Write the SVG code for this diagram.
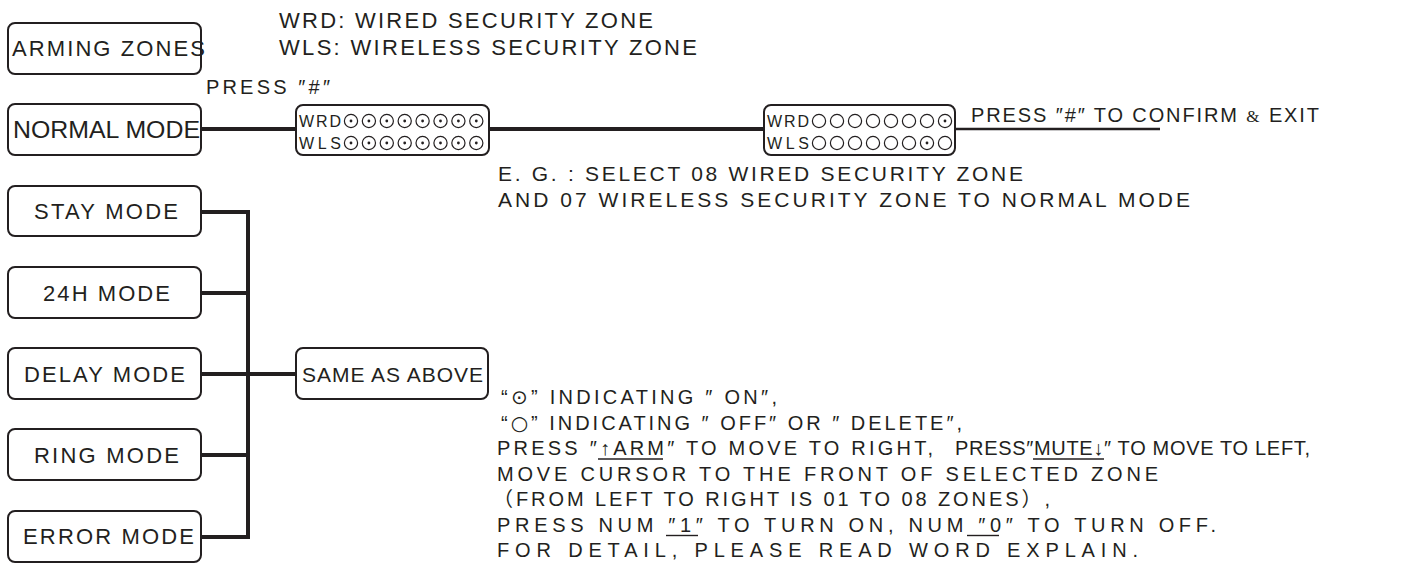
<svg xmlns="http://www.w3.org/2000/svg" width="1427" height="574" viewBox="0 0 1427 574">
<style>
.box{fill:#fff;stroke:#231f20;stroke-width:2}
.t{font-family:"Liberation Sans",Arial,"Noto Sans CJK SC",sans-serif;fill:#231f20}
.s24{font-size:24px}
.s22{font-size:22px}
.s21{font-size:21px}
.s20{font-size:20px}
.sm{font-size:16px}
.sym{font-family:"DejaVu Sans",sans-serif}
.amp{font-family:"Liberation Serif",serif;font-size:17px}
.thick{stroke:#231f20;stroke-width:4;fill:none}
.thin{stroke:#231f20;stroke-width:2.5;fill:none}
.ul{stroke:#231f20;stroke-width:1.4}
.c{fill:#fff;stroke:#231f20;stroke-width:1.2}
.d{fill:#231f20}
</style>
<defs>
<g id="on"><circle class="c" r="6.6"/><circle class="d" r="1.4"/></g>
<g id="off"><circle class="c" r="6.6"/></g>
</defs>

<g id="connectors">
<line class="thick" x1="201" y1="129" x2="296" y2="129"/>
<line class="thick" x1="489" y1="129" x2="764" y2="129"/>
<line class="thin" x1="955" y1="129" x2="1160" y2="129"/>
<polyline class="thick" points="201,212 248,212 248,537 201,537"/>
<line class="thick" x1="201" y1="293" x2="248" y2="293"/>
<line class="thick" x1="201" y1="374" x2="296" y2="374"/>
<line class="thick" x1="201" y1="455" x2="248" y2="455"/>
</g>

<g id="legend">
<text class="t s22" x="279" y="28" textLength="374" lengthAdjust="spacing">WRD: WIRED SECURITY ZONE</text>
<text class="t s22" x="279" y="55" textLength="418" lengthAdjust="spacing">WLS: WIRELESS SECURITY ZONE</text>
</g>

<g id="arming-zones">
<rect class="box" x="8" y="23" width="193" height="51" rx="7"/>
<text class="t s22" x="12" y="56" textLength="193" lengthAdjust="spacing">ARMING ZONES</text>
</g>

<g id="press-hash">
<text class="t s20" x="206" y="94" textLength="124" lengthAdjust="spacing">PRESS ″#″</text>
</g>

<g id="normal-mode">
<rect class="box" x="8" y="104" width="193" height="51" rx="7"/>
<text class="t s24" x="13" y="138" textLength="187" lengthAdjust="spacingAndGlyphs">NORMAL MODE</text>
</g>

<g id="zones-all-on">
<rect class="box" x="296" y="105" width="193" height="50" rx="7"/>
<text class="t sm" x="299" y="127" textLength="42" lengthAdjust="spacing">WRD</text>
<text class="t sm" x="299" y="149" textLength="42" lengthAdjust="spacing">WLS</text>
<use href="#on" x="351" y="121"/><use href="#on" x="368.9" y="121"/><use href="#on" x="386.8" y="121"/><use href="#on" x="404.7" y="121"/>
<use href="#on" x="422.6" y="121"/><use href="#on" x="440.5" y="121"/><use href="#on" x="458.4" y="121"/><use href="#on" x="476.3" y="121"/>
<use href="#on" x="351" y="143"/><use href="#on" x="368.9" y="143"/><use href="#on" x="386.8" y="143"/><use href="#on" x="404.7" y="143"/>
<use href="#on" x="422.6" y="143"/><use href="#on" x="440.5" y="143"/><use href="#on" x="458.4" y="143"/><use href="#on" x="476.3" y="143"/>
</g>

<g id="zones-selected">
<rect class="box" x="764" y="105" width="191" height="50" rx="7"/>
<text class="t sm" x="767" y="127" textLength="42" lengthAdjust="spacing">WRD</text>
<text class="t sm" x="767" y="149" textLength="42" lengthAdjust="spacing">WLS</text>
<use href="#off" x="819" y="121"/><use href="#off" x="837" y="121"/><use href="#off" x="855" y="121"/><use href="#off" x="873" y="121"/>
<use href="#off" x="891" y="121"/><use href="#off" x="909" y="121"/><use href="#off" x="927" y="121"/><use href="#on" x="945" y="121"/>
<use href="#off" x="819" y="143"/><use href="#off" x="837" y="143"/><use href="#off" x="855" y="143"/><use href="#off" x="873" y="143"/>
<use href="#off" x="891" y="143"/><use href="#off" x="909" y="143"/><use href="#on" x="927" y="143"/><use href="#off" x="945" y="143"/>
</g>

<g id="confirm-exit">
<text class="t s20" x="971" y="122" textLength="348" lengthAdjust="spacing">PRESS ″#″ TO CONFIRM <tspan class="amp">&amp;</tspan> EXIT</text>
</g>

<g id="example">
<text class="t s21" x="498" y="181" textLength="525" lengthAdjust="spacing">E. G. :  SELECT 08 WIRED SECURITY ZONE</text>
<text class="t s21" x="498" y="207" textLength="692" lengthAdjust="spacing">AND 07 WIRELESS SECURITY ZONE TO NORMAL MODE</text>
</g>

<g id="stay-mode">
<rect class="box" x="8" y="186" width="193" height="50" rx="7"/>
<text class="t s22" x="34" y="219" textLength="144" lengthAdjust="spacing">STAY MODE</text>
</g>
<g id="h24-mode">
<rect class="box" x="8" y="267" width="193" height="51" rx="7"/>
<text class="t s22" x="43" y="301" textLength="127" lengthAdjust="spacing">24H MODE</text>
</g>
<g id="delay-mode">
<rect class="box" x="8" y="348" width="193" height="51" rx="7"/>
<text class="t s22" x="24" y="382" textLength="161" lengthAdjust="spacing">DELAY MODE</text>
</g>
<g id="ring-mode">
<rect class="box" x="8" y="429" width="193" height="51" rx="7"/>
<text class="t s22" x="34" y="463" textLength="145" lengthAdjust="spacing">RING MODE</text>
</g>
<g id="error-mode">
<rect class="box" x="8" y="511" width="193" height="51" rx="7"/>
<text class="t s22" x="23" y="544" textLength="171" lengthAdjust="spacing">ERROR MODE</text>
</g>

<g id="same-as-above">
<rect class="box" x="296" y="348" width="192" height="51" rx="7"/>
<text class="t s21" x="302" y="382" textLength="181" lengthAdjust="spacing">SAME AS ABOVE</text>
</g>

<g id="notes">
<text class="t s20" x="501" y="404" textLength="276" lengthAdjust="spacing">“<tspan class="sym">⊙</tspan>” INDICATING ″ ON″,</text>
<text class="t s20" x="501" y="429.5" textLength="461" lengthAdjust="spacing">“<tspan class="sym">○</tspan>” INDICATING ″ OFF″  OR ″ DELETE″,</text>
<text class="t s20" x="497" y="455" textLength="436" lengthAdjust="spacing">PRESS ″↑ARM″ TO MOVE TO RIGHT,</text>
<text class="t s20" x="955" y="455" textLength="355" lengthAdjust="spacing">PRESS″MUTE↓″ TO MOVE TO LEFT,</text>
<line class="ul" x1="598" y1="459" x2="663" y2="459"/>
<line class="ul" x1="1033" y1="459" x2="1104" y2="459"/>
<text class="t s20" x="497" y="480.5" textLength="661" lengthAdjust="spacing">MOVE CURSOR TO THE FRONT OF SELECTED ZONE</text>
<text class="t s20" x="493" y="506" textLength="557" lengthAdjust="spacing">（FROM LEFT TO RIGHT IS 01 TO 08 ZONES）,</text>
<text class="t s20" x="497" y="531.5" textLength="719" lengthAdjust="spacing">PRESS NUM ″1″ TO TURN ON,  NUM ″0″ TO TURN OFF.</text>
<line class="ul" x1="666" y1="535.5" x2="698" y2="535.5"/>
<line class="ul" x1="967" y1="535.5" x2="999" y2="535.5"/>
<text class="t s20" x="497" y="557" textLength="641" lengthAdjust="spacing">FOR DETAIL,  PLEASE READ WORD EXPLAIN.</text>
</g>
</svg>
